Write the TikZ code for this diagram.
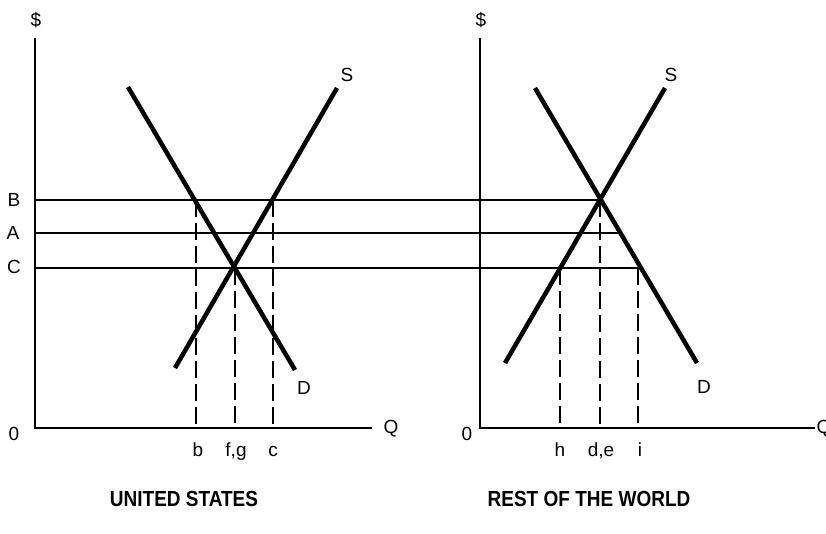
\documentclass[tikz,border=0pt]{standalone}
\usepackage{fontspec}
\setmainfont{Liberation Sans}
\begin{document}
\begin{tikzpicture}[x=1pt,y=-1pt,
  axis/.style={line width=2.2pt},
  level/.style={line width=2pt},
  curve/.style={line width=4.5pt},
  guide/.style={line width=2.6pt,dash pattern=on 17pt off 6pt},
  lbl/.style={font=\fontsize{19}{19}\selectfont,inner sep=0pt},
  ttl/.style={font=\fontsize{19}{19}\selectfont\bfseries,inner sep=0pt}]
\useasboundingbox (0,0) rectangle (826,533);
% ---- left panel coordinates
\coordinate (O1) at (35,428);
\coordinate (Y1) at (35,38);
\coordinate (X1) at (372,428);
\coordinate (D1a) at (128,87);
\coordinate (D1b) at (295,370);
\coordinate (S1a) at (175,368);
\coordinate (S1b) at (337,88);
% ---- right panel coordinates
\coordinate (O2) at (480,428);
\coordinate (Y2) at (480,38);
\coordinate (X2) at (815,428);
\coordinate (D2a) at (535,88);
\coordinate (D2b) at (697,363);
\coordinate (S2a) at (505,363);
\coordinate (S2b) at (665,88);
% ---- price levels
\coordinate (Bl) at (35,200);  \coordinate (Br) at (600,200);
\coordinate (Al) at (35,233);  \coordinate (Ar) at (618,233);
\coordinate (Cl) at (35,268);  \coordinate (Cr) at (638,268);
% ---- guide tops / bottoms
\coordinate (bt) at (196,200);  \coordinate (bb) at (196,428);
\coordinate (fgt) at (235,268); \coordinate (fgb) at (235,428);
\coordinate (ct) at (273,200);  \coordinate (cb) at (273,428);
\coordinate (ht) at (560,268);  \coordinate (hb) at (560,428);
\coordinate (det) at (600,200); \coordinate (deb) at (600,428);
\coordinate (it) at (638,268);  \coordinate (ib) at (638,428);
% axes
\draw[axis] (Y1) -- (O1) -- (X1);
\draw[axis] (Y2) -- (O2) -- (X2);
% levels
\draw[level] (Bl) -- (Br);
\draw[level] (Al) -- (Ar);
\draw[level] (Cl) -- (Cr);
% guides
\draw[guide] (bt) -- (bb);
\draw[guide] (fgt) -- (fgb);
\draw[guide] (ct) -- (cb);
\draw[guide] (ht) -- (hb);
\draw[guide] (det) -- (deb);
\draw[guide] (it) -- (ib);
% curves
\draw[curve] (D1a) -- (D1b);
\draw[curve] (S1a) -- (S1b);
\draw[curve] (D2a) -- (D2b);
\draw[curve] (S2a) -- (S2b);
% labels
\node[lbl] (dol1) at (36,20) {\$};
\node[lbl] (dol2) at (481,20) {\$};
\node[lbl] (z1) at (14,434) {0};
\node[lbl] (z2) at (467,434) {0};
\node[lbl] (q1) at (391,429) {Q};
\node[lbl] (q2) at (824,429) {Q};
\node[lbl] (lB) at (14,200) {B};
\node[lbl] (lA) at (13,233) {A};
\node[lbl] (lC) at (14,267) {C};
\node[lbl] (lS1) at (347,75) {S};
\node[lbl] (lD1) at (304,388) {D};
\node[lbl] (lS2) at (671,75) {S};
\node[lbl] (lD2) at (704,387) {D};
\node[lbl,anchor=base] (lb) at (198,456) {b};
\node[lbl,anchor=base] (lfg) at (236,456) {f,g};
\node[lbl,anchor=base] (lc) at (273,456) {c};
\node[lbl,anchor=base] (lh) at (560,456) {h};
\node[lbl,anchor=base] (lde) at (601,456) {d,e};
\node[lbl,anchor=base] (li) at (640,456) {i};
\node[ttl,anchor=base] (tUS) at (184,506) {\scalebox{1}[1.15]{UNITED STATES}};
\node[ttl,anchor=base] (tRW) at (589,506) {\scalebox{1}[1.15]{REST OF THE WORLD}};
\end{tikzpicture}
\end{document}
